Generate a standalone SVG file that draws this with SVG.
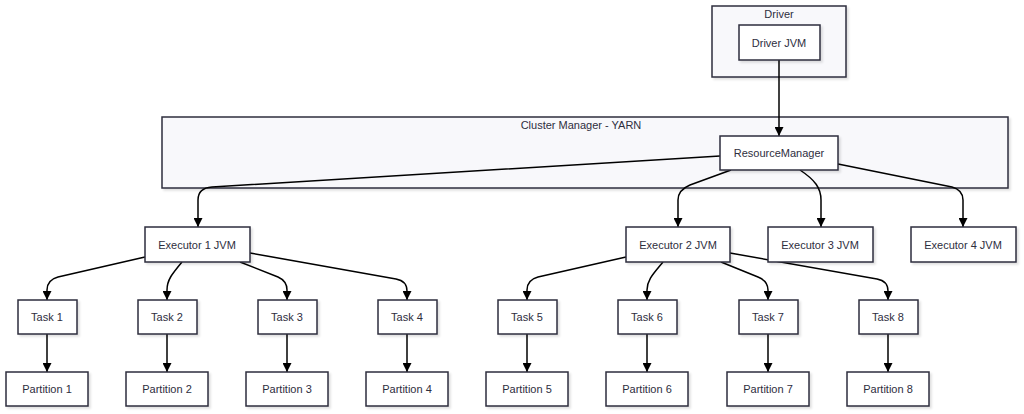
<svg xmlns="http://www.w3.org/2000/svg" width="1024" height="414" viewBox="0 0 1024 414">
<defs>
<filter id="sh" x="-10%" y="-10%" width="130%" height="140%"><feDropShadow dx="2" dy="2" stdDeviation="1.2" flood-color="#000" flood-opacity="0.12"/></filter>
<marker id="ah" viewBox="0 0 10 10" refX="10" refY="5" markerWidth="9" markerHeight="9" markerUnits="userSpaceOnUse" orient="auto"><path d="M0,0 L10,5 L0,10 z" fill="#000"/></marker>
</defs>
<style>
.cl{fill:#f8f8fb;stroke:#2e2e3e;stroke-width:1.5;filter:url(#sh)}
.nd{fill:#fff;stroke:#2e2e3e;stroke-width:1.5;filter:url(#sh)}
text{font-family:"Liberation Sans",Arial,sans-serif;font-size:11px;fill:#2e2e3e;text-anchor:middle;dominant-baseline:central}
.e{fill:none;stroke:#000;stroke-width:1.5;marker-end:url(#ah)}
</style>
<rect width="1024" height="414" fill="#fff"/>
<g id="cluster-driver"><rect class="cl" x="712" y="6" width="134" height="71"/><text x="779" y="14">Driver</text></g>
<g id="cluster-yarn"><rect class="cl" x="162" y="117" width="846" height="71"/><text x="581" y="125">Cluster Manager - YARN</text></g>
<g id="connectors">
<path class="e" d="M779,60 L779,136"/>
<path class="e" d="M720,156 L212,187 Q198,188 198,200 L198,227"/>
<path class="e" d="M731,170 L690,185 Q678,190 678,200 L678,227"/>
<path class="e" d="M800,170 C815,180 821,188 821,200 L821,227"/>
<path class="e" d="M838,164 L952,187 Q963,190 963,200 L963,227"/>
<path class="e" d="M145,257 L58,277 Q47,280 47,290 L47,300"/>
<path class="e" d="M182,262 C172,274 167,280 167,290 L167,300"/>
<path class="e" d="M240,262 L278,277 Q287,281 287,290 L287,300"/>
<path class="e" d="M250,253 L396,279 Q407,281 407,291 L407,300"/>
<path class="e" d="M626,257 L538,277 Q527,280 527,290 L527,300"/>
<path class="e" d="M663,262 C653,274 647,280 647,290 L647,300"/>
<path class="e" d="M721,262 L758,277 Q768,281 768,290 L768,300"/>
<path class="e" d="M730,253 L877,279 Q888,281 888,291 L888,300"/>
<path class="e" d="M47,334 L47,372"/>
<path class="e" d="M167,334 L167,372"/>
<path class="e" d="M287,334 L287,372"/>
<path class="e" d="M407,334 L407,372"/>
<path class="e" d="M527,334 L527,372"/>
<path class="e" d="M647,334 L647,372"/>
<path class="e" d="M768,334 L768,372"/>
<path class="e" d="M888,334 L888,372"/>
</g>
<g id="driver-jvm"><rect class="nd" x="739" y="25" width="81" height="35"/><text x="779" y="43">Driver JVM</text></g>
<g id="resource-manager"><rect class="nd" x="720" y="136" width="118" height="34"/><text x="779" y="153">ResourceManager</text></g>
<g id="executor-1"><rect class="nd" x="145" y="227" width="105" height="35"/><text x="197" y="245">Executor 1 JVM</text></g>
<g id="executor-2"><rect class="nd" x="626" y="227" width="104" height="35"/><text x="678" y="245">Executor 2 JVM</text></g>
<g id="executor-3"><rect class="nd" x="768" y="227" width="105" height="35"/><text x="820" y="245">Executor 3 JVM</text></g>
<g id="executor-4"><rect class="nd" x="911" y="227" width="105" height="35"/><text x="963" y="245">Executor 4 JVM</text></g>
<g id="task-1"><rect class="nd" x="18" y="300" width="59" height="34"/><text x="47" y="317">Task 1</text></g>
<g id="task-2"><rect class="nd" x="138" y="300" width="59" height="34"/><text x="167" y="317">Task 2</text></g>
<g id="task-3"><rect class="nd" x="258" y="300" width="59" height="34"/><text x="287" y="317">Task 3</text></g>
<g id="task-4"><rect class="nd" x="378" y="300" width="59" height="34"/><text x="407" y="317">Task 4</text></g>
<g id="task-5"><rect class="nd" x="498" y="300" width="59" height="34"/><text x="527" y="317">Task 5</text></g>
<g id="task-6"><rect class="nd" x="618" y="300" width="59" height="34"/><text x="647" y="317">Task 6</text></g>
<g id="task-7"><rect class="nd" x="739" y="300" width="59" height="34"/><text x="768" y="317">Task 7</text></g>
<g id="task-8"><rect class="nd" x="859" y="300" width="59" height="34"/><text x="888" y="317">Task 8</text></g>
<g id="partition-1"><rect class="nd" x="6" y="372" width="82" height="34"/><text x="47" y="389">Partition 1</text></g>
<g id="partition-2"><rect class="nd" x="126" y="372" width="82" height="34"/><text x="167" y="389">Partition 2</text></g>
<g id="partition-3"><rect class="nd" x="246" y="372" width="82" height="34"/><text x="287" y="389">Partition 3</text></g>
<g id="partition-4"><rect class="nd" x="366" y="372" width="82" height="34"/><text x="407" y="389">Partition 4</text></g>
<g id="partition-5"><rect class="nd" x="486" y="372" width="82" height="34"/><text x="527" y="389">Partition 5</text></g>
<g id="partition-6"><rect class="nd" x="606" y="372" width="82" height="34"/><text x="647" y="389">Partition 6</text></g>
<g id="partition-7"><rect class="nd" x="727" y="372" width="82" height="34"/><text x="768" y="389">Partition 7</text></g>
<g id="partition-8"><rect class="nd" x="847" y="372" width="82" height="34"/><text x="888" y="389">Partition 8</text></g>
</svg>
